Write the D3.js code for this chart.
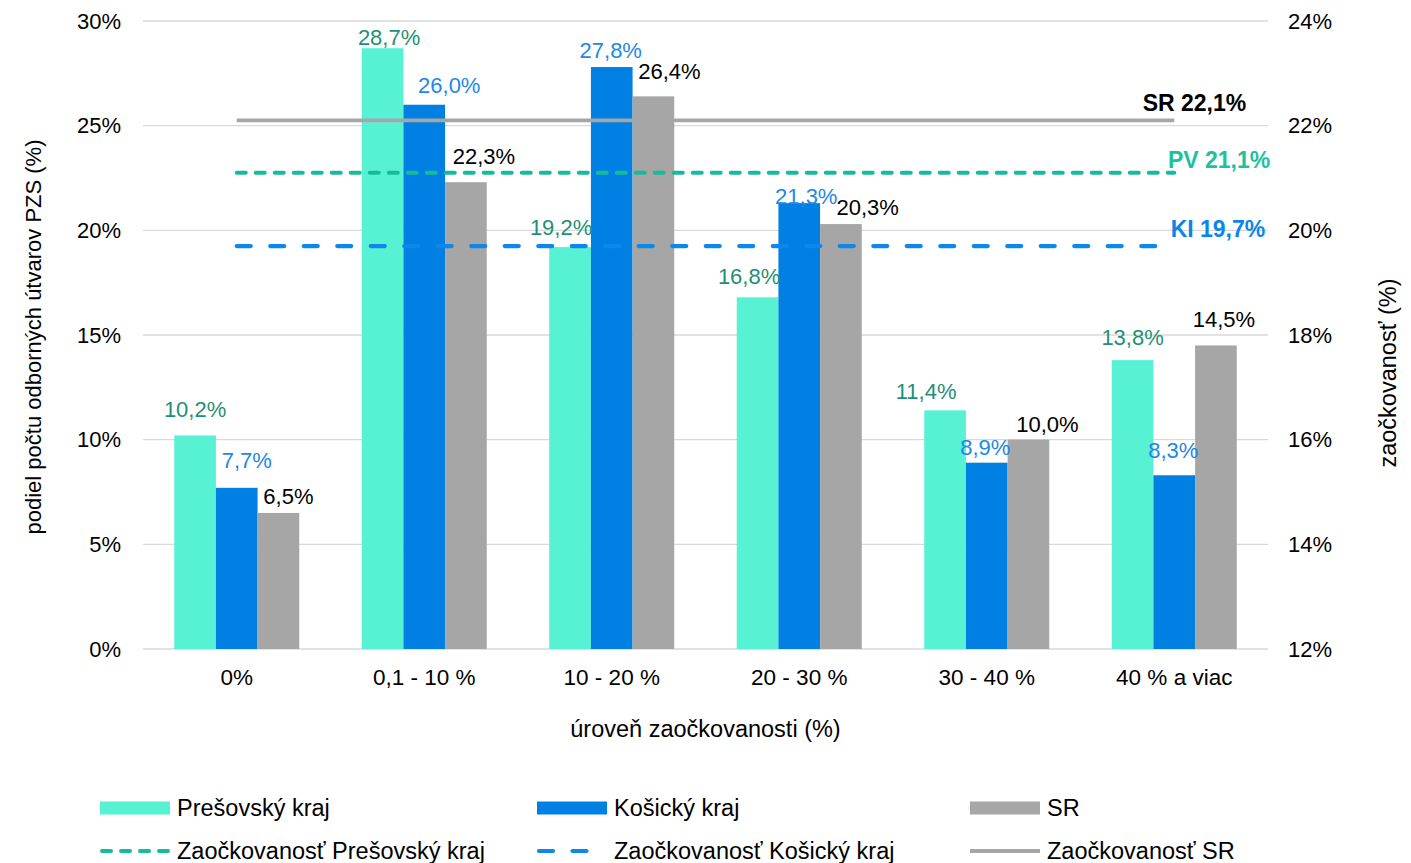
<!DOCTYPE html>
<html>
<head>
<meta charset="utf-8">
<script src="https://cdn.jsdelivr.net/npm/d3@7"></script>
<style>
  html, body { margin: 0; padding: 0; background: #fff; }
  svg { display: block; font-family: "Liberation Sans", Arial, sans-serif; }
</style>
</head>
<body>
<svg id="chart" width="1411" height="863"></svg>
<script>
// ---------- DATA ----------
const categories = ["0%", "0,1 - 10 %", "10 - 20 %", "20 - 30 %", "30 - 40 %", "40 % a viac"];
const presovValues = [10.2, 28.7, 19.2, 16.8, 11.4, 13.8];
const kosiceValues = [7.7, 26.0, 27.8, 21.3, 8.9, 8.3];
const srValues = [6.5, 22.3, 26.4, 20.3, 10.0, 14.5];
const leftTicks = [0, 5, 10, 15, 20, 25, 30];
const rightTicks = [12, 14, 16, 18, 20, 22, 24];
const vaccPresov = 21.1;
const vaccKosice = 19.7;
const vaccSR = 22.1;
const seriesNames = ["Prešovský kraj", "Košický kraj", "SR"];
const lineNames = ["Zaočkovanosť Prešovský kraj", "Zaočkovanosť Košický kraj", "Zaočkovanosť SR"];
const lineLabels = ["PV 21,1%", "KI 19,7%", "SR 22,1%"];
const xTitle = "úroveň zaočkovanosti (%)";
const yLeftTitle = "podiel počtu odborných útvarov PZS (%)";
const yRightTitle = "zaočkovanosť (%)";

// ---------- STYLE / LAYOUT ----------
const barColors = ["#57F2D3", "#0080E3", "#A6A6A6"];
const labelColors = ["#1F8F76", "#1E88E5", "#000000"];
const lineColors = ["#16BC98", "#0D88EA", "#A6A6A6"];
const lineLabelColors = ["#1DC29D", "#0A86E8", "#000000"];
// manual label nudges [dx, dy] (as in the reference, labels were moved by hand)
const labelNudge = [
  [[0, -12], [6.5, 2.4], [-9, -6], [-8.5, -7.6], [-19, -5.7], [0, -9]],
  [[10, -13.6], [25, -5.6], [-1, -2.6], [7, 7], [-1.5, -2], [-1, -11.7]],
  [[10, -2.8], [18, -12], [16, -11.6], [26.7, -2.6], [19, -2], [8, -12]]
];

const M = { left: 143, right: 1268, top: 21, bottom: 649 };
const svg = d3.select("#chart");

const x0 = d3.scaleBand().domain(categories).range([M.left, M.right]).padding(0);
const x1 = d3.scaleBand().domain([0, 1, 2]).range([0, x0.bandwidth()]).paddingInner(0).paddingOuter(0.75);
const yL = d3.scaleLinear().domain([0, 30]).range([M.bottom, M.top]);
const yR = d3.scaleLinear().domain([12, 24]).range([M.bottom, M.top]);

// gridlines
svg.append("g").selectAll("line").data(leftTicks).join("line")
  .attr("x1", M.left).attr("x2", M.right)
  .attr("y1", d => yL(d)).attr("y2", d => yL(d))
  .attr("stroke", "#D9D9D9").attr("stroke-width", 1.3);

// left axis
const leftAxis = d3.axisLeft(yL).tickValues(leftTicks).tickFormat(d => d + "%").tickSize(0).tickPadding(22);
const gl = svg.append("g").attr("transform", `translate(${M.left},0)`).call(leftAxis);
gl.select(".domain").remove();
gl.selectAll("text").attr("font-size", 22).attr("fill", "#000").attr("font-family", "Liberation Sans, Arial, sans-serif");

// right axis
const rightAxis = d3.axisRight(yR).tickValues(rightTicks).tickFormat(d => d + "%").tickSize(0).tickPadding(20);
const gr = svg.append("g").attr("transform", `translate(${M.right},0)`).call(rightAxis);
gr.select(".domain").remove();
gr.selectAll("text").attr("font-size", 22).attr("fill", "#000").attr("font-family", "Liberation Sans, Arial, sans-serif");

// bottom axis
const bottomAxis = d3.axisBottom(x0).tickSize(0).tickPadding(20);
const gb = svg.append("g").attr("transform", `translate(0,${M.bottom})`).call(bottomAxis);
gb.select(".domain").remove();
gb.selectAll("text").attr("font-size", 22.5).attr("fill", "#000").attr("font-family", "Liberation Sans, Arial, sans-serif");

// bars
const seriesValues = [presovValues, kosiceValues, srValues];
seriesValues.forEach((vals, s) => {
  svg.append("g").selectAll("rect").data(vals).join("rect")
    .attr("x", (d, i) => x0(categories[i]) + x1(s))
    .attr("width", x1.bandwidth())
    .attr("y", d => yL(d))
    .attr("height", d => yL(0) - yL(d))
    .attr("fill", barColors[s]);
});

// lines
const lineValues = [vaccPresov, vaccKosice, vaccSR];
const lineDash = ["9,10", "14,19.5", null];
const lineCap = ["round", "round", "butt"];
const lineWidths = [4, 4.2, 3.8];
const lineGen = d3.line().x(d => x0(d.c) + x0.bandwidth() / 2).y(d => yR(d.v));
[2, 0, 1].forEach(k => {
  const pts = categories.map(c => ({ c, v: lineValues[k] }));
  svg.append("path").datum(pts)
    .attr("d", lineGen)
    .attr("fill", "none")
    .attr("stroke", lineColors[k])
    .attr("stroke-width", lineWidths[k])
    .attr("stroke-linecap", lineCap[k])
    .attr("stroke-dasharray", lineDash[k]);
});

// line labels (right-aligned, relative to the end of the lines)
const lastX = x0(categories[categories.length - 1]) + x0.bandwidth() / 2;
const lineLabelPos = [[96, -5], [91, -9], [72, -9]];
[0, 1, 2].forEach(k => {
  svg.append("text")
    .attr("x", lastX + lineLabelPos[k][0])
    .attr("y", yR(lineValues[k]) + lineLabelPos[k][1])
    .attr("text-anchor", "end")
    .attr("font-size", 23).attr("font-weight", "bold")
    .attr("fill", lineLabelColors[k])
    .text(lineLabels[k]);
});

// data labels
const fmt = v => v.toFixed(1).replace(".", ",") + "%";
seriesValues.forEach((vals, s) => {
  svg.append("g").selectAll("text").data(vals).join("text")
    .attr("x", (d, i) => x0(categories[i]) + x1(s) + x1.bandwidth() / 2 + labelNudge[s][i][0])
    .attr("y", (d, i) => yL(d) - 6 + labelNudge[s][i][1])
    .attr("text-anchor", "middle")
    .attr("font-size", 22)
    .attr("fill", labelColors[s])
    .text(d => fmt(d));
});

// axis titles
svg.append("text").attr("x", (M.left + M.right) / 2).attr("y", 737)
  .attr("text-anchor", "middle").attr("font-size", 23.5).attr("fill", "#000").text(xTitle);
svg.append("text").attr("transform", `translate(41,337) rotate(-90)`)
  .attr("text-anchor", "middle").attr("font-size", 22).attr("fill", "#000").text(yLeftTitle);
svg.append("text").attr("transform", `translate(1396,373) rotate(-90)`)
  .attr("text-anchor", "middle").attr("font-size", 23.5).attr("fill", "#000").text(yRightTitle);

// legend
const legX = [100, 537, 970];
const legY = [808, 851];
seriesNames.forEach((n, k) => {
  svg.append("rect").attr("x", legX[k]).attr("y", legY[0] - 6.5).attr("width", 70).attr("height", 13).attr("fill", barColors[k]);
  svg.append("text").attr("x", legX[k] + 77).attr("y", legY[0] + 8).attr("font-size", 23.5).attr("fill", "#000").text(n);
});
lineNames.forEach((n, k) => {
  const cap = lineCap[k];
  svg.append("line").attr("x1", legX[k] + (cap === "round" ? 2 : 0)).attr("x2", legX[k] + 70 - (cap === "round" ? 2 : 0))
    .attr("y1", legY[1]).attr("y2", legY[1])
    .attr("stroke", lineColors[k]).attr("stroke-width", lineWidths[k])
    .attr("stroke-linecap", cap).attr("stroke-dasharray", lineDash[k]);
  svg.append("text").attr("x", legX[k] + 77).attr("y", legY[1] + 8).attr("font-size", 23.5).attr("fill", "#000").text(n);
});
</script>
</body>
</html>
